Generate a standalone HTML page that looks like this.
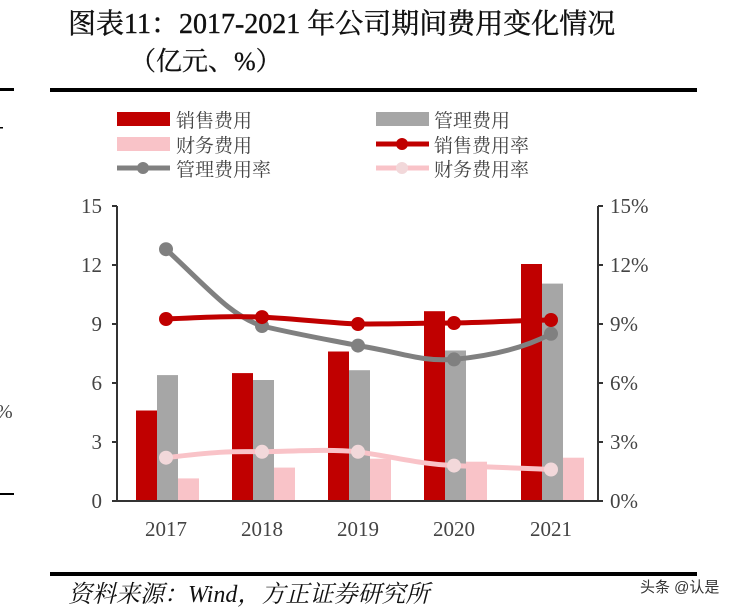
<!DOCTYPE html>
<html><head><meta charset="utf-8"><style>
body{margin:0;background:#fff;width:751px;height:613px;overflow:hidden;}
svg{display:block}
</style></head><body>
<svg width="751" height="613" xmlns="http://www.w3.org/2000/svg" font-family="'Liberation Serif','Noto Serif CJK SC',serif">
<text x="68" y="33" font-size="28" fill="#111" stroke="#111" stroke-width="0.4">图表11：2017-2021 年公司期间费用变化情况</text>
<text x="130" y="70" font-size="26" fill="#111" stroke="#111" stroke-width="0.3">（亿元、%）</text>
<rect x="50" y="88" width="647" height="4" fill="#000"/>
<rect x="0" y="88" width="14" height="3" fill="#000"/>
<rect x="0" y="127" width="3" height="1.5" fill="#000"/>
<text x="-4" y="418" font-size="20" fill="#444">%</text>
<rect x="0" y="493" width="14" height="2" fill="#000"/>
<rect x="50" y="572" width="647" height="4" fill="#000"/>
<g font-size="19" fill="#444">
<rect x="117" y="112" width="53" height="14" fill="#c00000"/><text x="176" y="127">销售费用</text>
<rect x="376" y="112" width="53" height="14" fill="#a6a6a6"/><text x="434" y="127">管理费用</text>
<rect x="117" y="137" width="53" height="14" fill="#f9c3c8"/><text x="176" y="152">财务费用</text>
<line x1="376" y1="144" x2="429" y2="144" stroke="#c00000" stroke-width="5"/><circle cx="402" cy="144" r="6" fill="#c00000"/><text x="434" y="152">销售费用率</text>
<line x1="117" y1="168" x2="170" y2="168" stroke="#808080" stroke-width="5"/><circle cx="143" cy="168" r="6" fill="#808080"/><text x="176" y="176">管理费用率</text>
<line x1="376" y1="168" x2="429" y2="168" stroke="#f9c3c8" stroke-width="5"/><circle cx="402" cy="168" r="6" fill="#f2d8da"/><text x="434" y="176">财务费用率</text>
</g>
<g>
<rect x="136" y="410.5" width="21" height="90.5" fill="#c00000"/><rect x="157" y="375.1" width="21" height="125.9" fill="#a6a6a6"/><rect x="178" y="478.4" width="21" height="22.6" fill="#f9c3c8"/>
<rect x="232" y="373.1" width="21" height="127.9" fill="#c00000"/><rect x="253" y="380" width="21" height="121" fill="#a6a6a6"/><rect x="274" y="467.6" width="21" height="33.4" fill="#f9c3c8"/>
<rect x="328" y="351.5" width="21" height="149.5" fill="#c00000"/><rect x="349" y="370.2" width="21" height="130.8" fill="#a6a6a6"/><rect x="370" y="458.7" width="21" height="42.3" fill="#f9c3c8"/>
<rect x="424" y="311.2" width="21" height="189.8" fill="#c00000"/><rect x="445" y="350.5" width="21" height="150.5" fill="#a6a6a6"/><rect x="466" y="461.7" width="21" height="39.3" fill="#f9c3c8"/>
<rect x="521" y="264" width="21" height="237" fill="#c00000"/><rect x="542" y="283.6" width="21" height="217.4" fill="#a6a6a6"/><rect x="563" y="457.7" width="21" height="43.3" fill="#f9c3c8"/>
</g>
<g stroke="#333" stroke-width="2" fill="none">
<line x1="117" y1="206" x2="117" y2="501"/><line x1="598" y1="206" x2="598" y2="501"/><line x1="112" y1="501" x2="603" y2="501"/>
<path d="M112 206H117M112 265H117M112 324H117M112 383H117M112 442H117M598 206H603M598 265H603M598 324H603M598 383H603M598 442H603"/>
</g>
<g font-size="21" fill="#444">
<g text-anchor="end"><text x="102" y="213">15</text><text x="102" y="272">12</text><text x="102" y="331">9</text><text x="102" y="390">6</text><text x="102" y="449">3</text><text x="102" y="508">0</text></g>
<text x="610" y="213">15%</text><text x="610" y="272">12%</text><text x="610" y="331">9%</text><text x="610" y="390">6%</text><text x="610" y="449">3%</text><text x="610" y="508">0%</text>
<g text-anchor="middle"><text x="166" y="536">2017</text><text x="262" y="536">2018</text><text x="358" y="536">2019</text><text x="454" y="536">2020</text><text x="551" y="536">2021</text></g>
</g>
<path d="M166 457.7 C214 452,230 451,262 451.8 C300 451,330 449,358 451.8 C400 458,420 464,454 465.6 C490 467,520 468,551 469.5" stroke="#f9c3c8" stroke-width="5" fill="none"/>
<g fill="#f2d8da"><circle cx="166" cy="457.7" r="7"/><circle cx="262" cy="451.8" r="7"/><circle cx="358" cy="451.8" r="7"/><circle cx="454" cy="465.6" r="7"/><circle cx="551" cy="469.5" r="7"/></g>
<path d="M166 249.2 C210 290,230 315,262 326 C300 335,330 340,358 345.6 C400 352,420 362,454 359.4 C500 355,530 345,551 333.8" stroke="#808080" stroke-width="5" fill="none"/>
<g fill="#808080"><circle cx="166" cy="249.2" r="7"/><circle cx="262" cy="326" r="7"/><circle cx="358" cy="345.6" r="7"/><circle cx="454" cy="359.4" r="7"/><circle cx="551" cy="333.8" r="7"/></g>
<path d="M166 319 C210 317,230 316,262 317.1 C300 319,330 323,358 324 C400 324,420 323,454 323 C500 322,530 320,551 320" stroke="#c00000" stroke-width="5" fill="none"/>
<g fill="#c00000"><circle cx="166" cy="319" r="7"/><circle cx="262" cy="317.1" r="7"/><circle cx="358" cy="324" r="7"/><circle cx="454" cy="323" r="7"/><circle cx="551" cy="320" r="7"/></g>
<text x="68" y="602" font-size="24" font-style="italic" fill="#111">资料来源：Wind，方正证券研究所</text>
<text x="640" y="592" font-size="15" fill="#333" font-family="'Liberation Sans','Noto Sans CJK SC',sans-serif">头条 @认是</text>
</svg>
</body></html>
